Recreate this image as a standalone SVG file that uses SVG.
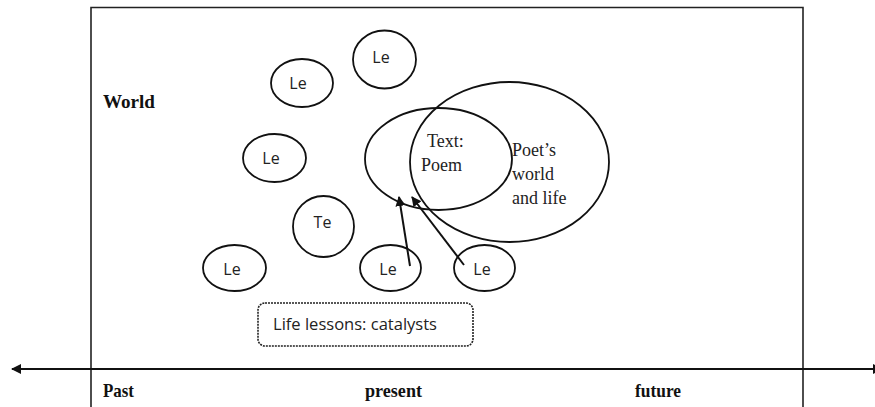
<svg xmlns="http://www.w3.org/2000/svg" width="875" height="407" viewBox="0 0 875 407">
<defs>
<style>
.sh{fill:none;stroke:#111;stroke-width:1.8}
.le{font-family:"Open Sans","Liberation Sans",sans-serif;font-size:16px;fill:#222;text-anchor:middle}
.sf{font-family:"Liberation Serif","DejaVu Serif",serif;font-size:18px;fill:#222}
.bd{font-family:"Liberation Serif","DejaVu Serif",serif;font-size:19px;font-weight:bold;fill:#111}
.cn{fill:none;stroke:#111;stroke-width:2}
</style>
<marker id="ah" viewBox="0 0 10 10" refX="9" refY="5" markerWidth="5" markerHeight="5" orient="auto-start-reverse" markerUnits="strokeWidth">
<path d="M0,0 L10,5 L0,10 z" fill="#111"/>
</marker>
</defs>
<rect width="875" height="407" fill="#fff"/>
<g id="world">
<path d="M91,412 L91,7.5 L803,7.5 L803,412" fill="none" stroke="#222" stroke-width="1.6"/>
<text class="bd" x="103" y="108" textLength="52" lengthAdjust="spacingAndGlyphs">World</text>
</g>
<g id="timeline">
<line class="cn" x1="12" y1="369" x2="882" y2="369" stroke-width="2.4" marker-start="url(#ah)" marker-end="url(#ah)"/>
<text class="bd" x="103" y="397" textLength="31" lengthAdjust="spacingAndGlyphs">Past</text>
<text class="bd" x="365" y="397" textLength="57" lengthAdjust="spacingAndGlyphs">present</text>
<text class="bd" x="635" y="397" textLength="46" lengthAdjust="spacingAndGlyphs">future</text>
</g>
<g id="le1"><ellipse class="sh" cx="384.5" cy="59.5" rx="31.5" ry="29"/><text class="le" x="381" y="63">Le</text></g>
<g id="le2"><ellipse class="sh" cx="302" cy="83" rx="31" ry="24"/><text class="le" x="298" y="89">Le</text></g>
<g id="le3"><ellipse class="sh" cx="274.5" cy="158" rx="31.5" ry="24"/><text class="le" x="271" y="164">Le</text></g>
<g id="te"><ellipse class="sh" cx="323.5" cy="226.5" rx="30.5" ry="30.5"/><text class="le" x="322.5" y="228">Te</text></g>
<g id="le4"><ellipse class="sh" cx="234.5" cy="268" rx="31.5" ry="23"/><text class="le" x="232" y="275">Le</text></g>
<g id="le5"><ellipse class="sh" cx="390.5" cy="268" rx="30.5" ry="23"/><text class="le" x="388" y="275">Le</text></g>
<g id="le6"><ellipse class="sh" cx="484.5" cy="268" rx="30.5" ry="23"/><text class="le" x="482" y="275">Le</text></g>
<g id="poem">
<ellipse class="sh" cx="438.5" cy="159" rx="73.5" ry="51"/>
<text class="sf" x="427" y="147">Text:</text>
<text class="sf" x="421" y="171">Poem</text>
</g>
<g id="poet">
<ellipse class="sh" cx="509.5" cy="162" rx="99.5" ry="80"/>
<text class="sf" x="512" y="156">Poet’s</text>
<text class="sf" x="512" y="180">world</text>
<text class="sf" x="512" y="204">and life</text>
</g>
<g id="catalysts">
<rect x="258" y="303" width="215" height="43" rx="7" fill="none" stroke="#222" stroke-width="1.6" stroke-dasharray="2,1"/>
<text x="273" y="330" font-family="Open Sans, Liberation Sans, sans-serif" font-size="16" fill="#222" textLength="164" lengthAdjust="spacingAndGlyphs">Life lessons: catalysts</text>
</g>
<g id="connectors">
<line class="cn" x1="410" y1="266" x2="399" y2="197" marker-end="url(#ah)"/>
<line class="cn" x1="464" y1="265" x2="412" y2="197" marker-end="url(#ah)"/>
</g>
</svg>
